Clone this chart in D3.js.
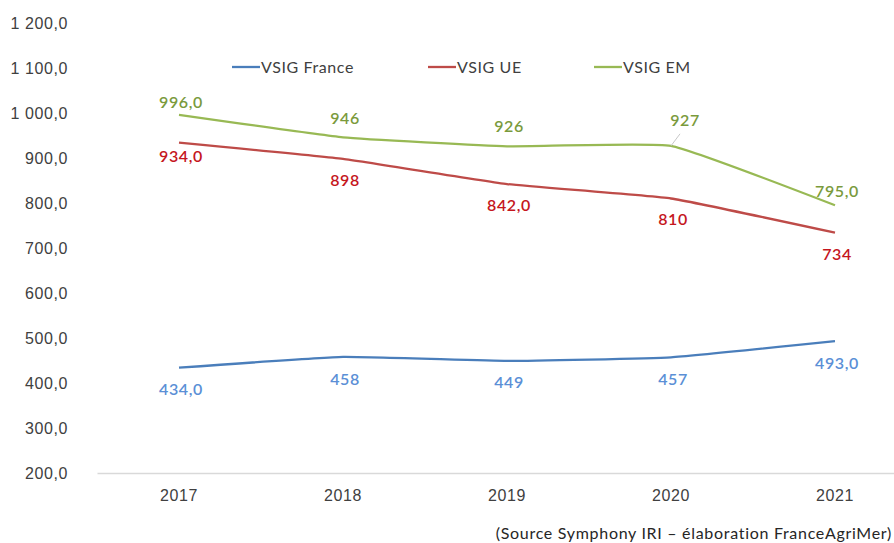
<!DOCTYPE html>
<html>
<head>
<meta charset="utf-8">
<script src="https://cdn.jsdelivr.net/npm/d3@7"></script>
<style>
  html, body { margin: 0; padding: 0; background: #fff; }
  svg { display: block; font-family: Lato, "Open Sans", sans-serif; letter-spacing: 0.6px; }
</style>
</head>
<body>
<div id="chart"></div>
<script>
// ----------------------------------
// DATA
// ----------------------------------
const years = ['2017', '2018', '2019', '2020', '2021'];
const seriesNames = ['VSIG France', 'VSIG UE', 'VSIG EM'];
const vsigFrance = [434, 458, 449, 457, 493];
const vsigUE = [934, 898, 842, 810, 734];
const vsigEM = [996, 946, 926, 927, 795];
// labels as printed on the chart (some with decimals, some without)
const labelsFrance = ['434,0', '458', '449', '457', '493,0'];
const labelsUE = ['934,0', '898', '842,0', '810', '734'];
const labelsEM = ['996,0', '946', '926', '927', '795,0'];
const yTicks = [200, 300, 400, 500, 600, 700, 800, 900, 1000, 1100, 1200];
const sourceText = '(Source Symphony IRI – élaboration FranceAgriMer)';

const width = 894, height = 543;
const margin = {top: 23, right: -23, bottom: 70, left: 97};
const innerW = width - margin.left - margin.right;
const innerH = height - margin.top - margin.bottom;

// colours : line, label
const series = [
  {name: seriesNames[0], values: vsigFrance, labels: labelsFrance, color: '#4a7ebb', text: '#5b8fd6', dy: [22, 22, 21, 22, 22]},
  {name: seriesNames[1], values: vsigUE, labels: labelsUE, color: '#be4b48', text: '#c5161d', dy: [14, 21, 21, 21, 22]},
  {name: seriesNames[2], values: vsigEM, labels: labelsEM, color: '#98b954', text: '#7a9a3c', dy: [-12, -19, -20, -25, -14]}
];

const svg = d3.select('#chart').append('svg')
  .attr('width', width)
  .attr('height', height);

const x = d3.scaleBand()
  .domain(years)
  .range([0, innerW]);

const y = d3.scaleLinear()
  .domain([200, 1200])
  .range([innerH, 0]);

const g = svg.append('g')
  .attr('transform', `translate(${margin.left},${margin.top})`);

// ----------------------------------
// AXES
// ----------------------------------
const yAxis = g.append('g')
  .call(d3.axisLeft(y).tickValues(yTicks).tickSize(0).tickPadding(29)
    .tickFormat(d => d3.format(',.1f')(d).replace(',', ' ').replace('.', ',')));
yAxis.select('.domain').remove();
yAxis.selectAll('text')
  .attr('fill', '#404040')
  .style('font-size', '16px');

const xAxis = g.append('g')
  .attr('transform', `translate(0,${innerH})`)
  .call(d3.axisBottom(x).tickSize(0).tickPadding(17));
xAxis.select('.domain').attr('stroke', '#d9d9d9').attr('stroke-width', 1.3);
xAxis.selectAll('text')
  .attr('fill', '#404040')
  .style('font-size', '16px');

// ----------------------------------
// LINES + LABELS
// ----------------------------------
const cx = d => x(d) + x.bandwidth() / 2;
// Excel "smoothed" lines are only slightly rounded here
const line = d3.line()
  .x((d, i) => cx(years[i]))
  .y(d => y(d))
  .curve(d3.curveCardinal.tension(0.65));

series.forEach(s => {
  g.append('path')
    .datum(s.values)
    .attr('fill', 'none')
    .attr('stroke', s.color)
    .attr('stroke-width', 2.3)
    .attr('d', line);

  g.append('g').selectAll('text')
    .data(s.values)
    .join('text')
    .attr('x', (d, i) => cx(years[i]) + (s.name === 'VSIG EM' && i === 3 ? 14 : 2))
    .attr('y', (d, i) => y(d) + s.dy[i])
    .attr('dy', '0.35em')
    .attr('text-anchor', 'middle')
    .attr('fill', s.text)
    .style('font-size', '16px')
    .style('font-weight', '600')
    .text((d, i) => s.labels[i]);
});

// leader line for the 2020 EM label
const em2020 = vsigEM[3];
g.append('line')
  .attr('x1', cx('2020'))
  .attr('y1', y(em2020))
  .attr('x2', cx('2020') + 9)
  .attr('y2', y(em2020) - 12)
  .attr('stroke', '#c8c8c8')
  .attr('stroke-width', 1);

// ----------------------------------
// LEGEND
// ----------------------------------
const legendX = [232, 428, 594];
const legend = svg.append('g');
series.forEach((s, i) => {
  const lg = legend.append('g').attr('transform', `translate(${legendX[i]},67)`);
  lg.append('line')
    .attr('x1', 0).attr('x2', 28)
    .attr('stroke', s.color)
    .attr('stroke-width', 2.3);
  lg.append('text')
    .attr('x', 29)
    .attr('dy', '0.35em')
    .attr('fill', '#404040')
    .style('font-size', '16px')
    .text(s.name);
});

// ----------------------------------
// SOURCE
// ----------------------------------
svg.append('text')
  .attr('x', 892)
  .attr('y', 533)
  .attr('dy', '0.35em')
  .attr('text-anchor', 'end')
  .attr('fill', '#262626')
  .style('font-size', '16px')
  .style('letter-spacing', '0.7px')
  .text(sourceText);
</script>
</body>
</html>
